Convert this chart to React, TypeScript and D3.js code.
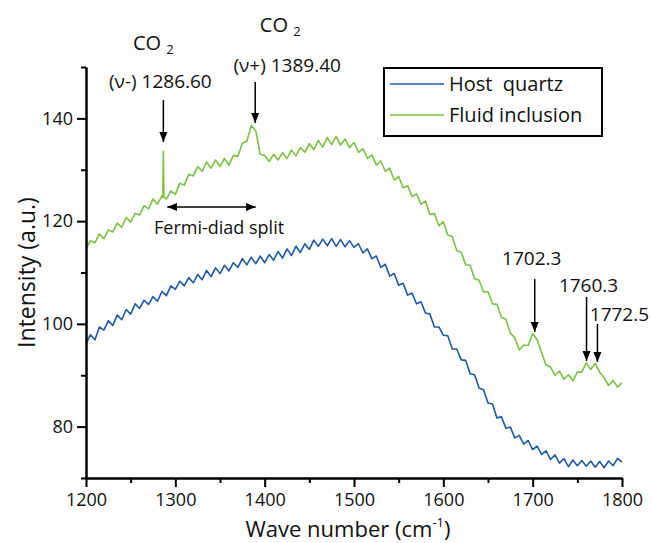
import React, { useEffect, useRef } from 'react';
import * as d3 from 'd3';

// spectra sampled every 5 cm-1 from 1200 to 1800
const waveNumbers = d3.range(1200, 1801, 5);

const hostQuartz = [
  96.1, 97.9, 96.9, 99.4, 98.8, 100.6, 99.7, 101.7, 100.8, 102.8,
  101.9, 103.9, 103.0, 104.6, 103.8, 105.3, 104.4, 106.3, 105.5, 107.4,
  106.7, 108.3, 107.4, 109.0, 108.0, 109.6, 108.6, 110.4, 109.2, 110.9,
  109.8, 111.4, 110.3, 111.9, 111.0, 112.7, 111.5, 113.0, 111.7, 113.2,
  111.9, 113.5, 112.4, 114.1, 112.8, 114.6, 113.3, 115.1, 113.9, 115.6,
  114.5, 116.3, 115.1, 116.5, 115.2, 116.6, 115.1, 116.4, 115.0, 116.2,
  114.9, 115.6, 113.8, 114.6, 112.7, 113.2, 111.0, 111.6, 109.3, 109.8,
  107.5, 107.9, 105.6, 106.0, 103.9, 104.3, 102.1, 101.9, 99.4, 99.4,
  97.8, 97.7, 95.1, 95.1, 93.0, 92.9, 90.3, 90.1, 87.5, 87.2,
  84.6, 84.4, 81.7, 81.9, 79.7, 79.9, 77.8, 78.3, 76.6, 77.3,
  75.5, 76.2, 74.6, 75.3, 73.6, 74.5, 72.9, 73.8, 72.2, 73.5,
  72.4, 73.4, 72.3, 73.3, 72.1, 73.2, 72.0, 73.3, 72.4, 73.8,
  73.1,
];

const fluidInclusion = [
  114.6, 116.2, 115.8, 117.5, 116.6, 118.3, 117.9, 119.6, 118.8, 120.7,
  119.8, 121.5, 121.2, 123.0, 122.4, 124.3, 123.3, 124.9, 124.3, 125.9,
  125.2, 127.4, 127.0, 129.1, 128.8, 130.6, 129.7, 131.5, 130.3, 131.9,
  130.6, 132.2, 130.9, 132.8, 132.6, 135.2, 135.5, 138.6, 137.6, 133.0,
  132.8, 131.6, 133.0, 131.9, 133.3, 132.2, 133.8, 132.7, 134.3, 133.4,
  135.1, 133.9, 135.7, 134.4, 136.3, 134.9, 136.5, 134.8, 136.0, 134.3,
  135.3, 133.4, 134.1, 132.2, 132.9, 130.9, 131.7, 129.7, 130.3, 128.0,
  128.7, 126.5, 126.9, 124.8, 125.3, 123.3, 123.9, 121.3, 121.5, 119.1,
  119.9, 117.3, 117.0, 114.3, 113.9, 111.5, 111.4, 108.8, 108.5, 106.2,
  106.3, 103.9, 103.8, 101.3, 100.9, 98.2, 97.3, 94.9, 95.9, 95.8,
  98.1, 96.9, 94.4, 92.0, 91.6, 90.0, 90.8, 89.2, 90.1, 88.9,
  90.6, 90.6, 92.4, 91.1, 92.3, 90.6, 89.5, 88.0, 89.0, 87.7,
  88.5,
];

// narrow CO2 (v-) line on the fluid inclusion spectrum
const co2SpikeWaves = [1286.0, 1286.6, 1287.2];
const co2SpikeValues = [124.6, 133.6, 124.7];

const xMajorTicks = [1200, 1300, 1400, 1500, 1600, 1700, 1800];
const xMinorTicks = [1250, 1350, 1450, 1550, 1650, 1750];
const yMajorTicks = [80, 100, 120, 140];
const yMinorTicks = [70, 90, 110, 130, 150];

const seriesNames = ['Host  quartz', 'Fluid inclusion'];
const seriesColors = ['#1f5aa8', '#7cc143'];

const peakWaves = [1286.6, 1389.4, 1702.3, 1760.3, 1772.5];
const peakLabels = ['(ν-) 1286.60', '(ν+) 1389.40', '1702.3', '1760.3', '1772.5'];

const FONT = "'Open Sans', 'Noto Sans', sans-serif";

const RamanChart = () => {
  const svgRef = useRef(null);

  useEffect(() => {
    const svg = d3.select(svgRef.current);
    svg.selectAll('*').remove();

    const x = d3.scaleLinear().domain([1200, 1800]).range([86, 622]);
    const y = d3.scaleLinear().domain([70, 150]).range([478, 67]);

    const defs = svg.append('defs');
    defs.append('marker')
      .attr('id', 'head')
      .attr('viewBox', '0 0 10 10')
      .attr('refX', 10)
      .attr('refY', 5)
      .attr('markerWidth', 10)
      .attr('markerHeight', 10)
      .attr('markerUnits', 'userSpaceOnUse')
      .attr('orient', 'auto-start-reverse')
      .append('path')
      .attr('d', 'M0,1 L10,5 L0,9 Z')
      .attr('fill', '#000');

    // spectra
    const host = waveNumbers.map((w, i) => [w, hostQuartz[i]]);
    const fluid = waveNumbers.map((w, i) => [w, fluidInclusion[i]]);
    co2SpikeWaves.forEach((w, i) => fluid.push([w, co2SpikeValues[i]]));
    fluid.sort((a, b) => a[0] - b[0]);

    const line = d3.line().x(d => x(d[0])).y(d => y(d[1]));

    [host, fluid].forEach((data, i) => {
      svg.append('path')
        .datum(data)
        .attr('d', line)
        .attr('fill', 'none')
        .attr('stroke', seriesColors[i])
        .attr('stroke-width', 1.6)
        .attr('stroke-linejoin', 'round');
    });

    // axes
    const styleAxis = (g) => {
      g.selectAll('path, line').attr('stroke', '#000').attr('stroke-width', 2);
      g.selectAll('text').attr('font-family', FONT).attr('font-size', 18).attr('fill', '#111');
    };

    svg.append('g')
      .attr('transform', `translate(0,${y(70)})`)
      .call(d3.axisBottom(x).tickValues(xMinorTicks).tickSize(5).tickSizeOuter(0))
      .call(styleAxis)
      .call(g => g.selectAll('text').remove());
    svg.append('g')
      .attr('transform', `translate(0,${y(70)})`)
      .call(d3.axisBottom(x).tickValues(xMajorTicks).tickSize(9).tickPadding(6).tickFormat(d3.format('d')).tickSizeOuter(0))
      .call(styleAxis);

    svg.append('g')
      .attr('transform', `translate(${x(1200)},0)`)
      .call(d3.axisLeft(y).tickValues(yMinorTicks).tickSize(5).tickSizeOuter(0))
      .call(styleAxis)
      .call(g => g.selectAll('text').remove());
    svg.append('g')
      .attr('transform', `translate(${x(1200)},0)`)
      .call(d3.axisLeft(y).tickValues(yMajorTicks).tickSize(9).tickPadding(4).tickFormat(d3.format('d')).tickSizeOuter(0))
      .call(styleAxis);

    // axis titles
    const xTitle = svg.append('text')
      .attr('x', 348)
      .attr('y', 537)
      .attr('text-anchor', 'middle')
      .attr('font-family', FONT)
      .attr('font-size', 22)
      .attr('fill', '#111');
    xTitle.append('tspan').text('Wave number (cm');
    xTitle.append('tspan').attr('font-size', 13).attr('dy', -10).text('-1');
    xTitle.append('tspan').attr('dy', 10).text(')');

    svg.append('text')
      .attr('transform', `translate(35,${(y(70) + y(150)) / 2}) rotate(-90)`)
      .attr('text-anchor', 'middle')
      .attr('font-family', FONT)
      .attr('font-size', 23)
      .attr('fill', '#111')
      .text('Intensity (a.u.)');

    // legend
    const legend = svg.append('g').attr('transform', 'translate(384,68)');
    legend.append('rect')
      .attr('width', 218)
      .attr('height', 68)
      .attr('fill', '#fff')
      .attr('stroke', '#000')
      .attr('stroke-width', 2);
    seriesNames.forEach((name, i) => {
      const row = legend.append('g').attr('transform', `translate(0,${16 + i * 31})`);
      row.append('line')
        .attr('x1', 6).attr('x2', 60)
        .attr('stroke', seriesColors[i])
        .attr('stroke-width', 1.6);
      row.append('text')
        .attr('x', 65)
        .attr('y', 7)
        .attr('font-family', FONT)
        .attr('font-size', 20)
        .attr('fill', '#111')
        .attr('xml:space', 'preserve')
        .style('white-space', 'pre')
        .text(name);
    });

    // peak annotations: [label x offset, label baseline, arrow start, arrow tip]
    const layout = [
      [-3, 88, 100, 142],
      [32, 72, 82, 123],
      [-3, 265, 279, 332],
      [2, 292, 297, 361],
      [22, 321, 324, 362],
    ];
    peakWaves.forEach((w, i) => {
      const [dx, ty, y1, y2] = layout[i];
      svg.append('line')
        .attr('x1', x(w)).attr('x2', x(w))
        .attr('y1', y1).attr('y2', y2)
        .attr('stroke', '#000')
        .attr('stroke-width', 1.5)
        .attr('marker-end', 'url(#head)');
      svg.append('text')
        .attr('x', x(w) + dx)
        .attr('y', ty)
        .attr('text-anchor', 'middle')
        .attr('font-family', FONT)
        .attr('font-size', 19)
        .attr('fill', '#111')
        .text(peakLabels[i]);
    });

    // CO2 headers
    [[peakWaves[0], -10, 50], [peakWaves[1], 25, 32]].forEach(([w, dx, ty]) => {
      const t = svg.append('text')
        .attr('x', x(w) + dx)
        .attr('y', ty)
        .attr('text-anchor', 'middle')
        .attr('font-family', FONT)
        .attr('font-size', 20)
        .attr('fill', '#111')
        .attr('xml:space', 'preserve')
        .style('white-space', 'pre');
      t.append('tspan').text('CO ');
      t.append('tspan').attr('font-size', 13).attr('dy', 4).text('2');
    });

    // Fermi-diad split double arrow
    svg.append('line')
      .attr('x1', x(1291)).attr('x2', x(1390))
      .attr('y1', 207).attr('y2', 207)
      .attr('stroke', '#000')
      .attr('stroke-width', 1.5)
      .attr('marker-start', 'url(#head)')
      .attr('marker-end', 'url(#head)');
    svg.append('text')
      .attr('x', 154)
      .attr('y', 234)
      .attr('font-family', FONT)
      .attr('font-size', 18)
      .attr('fill', '#111')
      .text('Fermi-diad split');
  }, []);

  return (
    <div style={{ position: 'absolute', left: 0, top: 0, background: '#fff' }}>
      <svg ref={svgRef} width={652} height={543} style={{ display: 'block' }}></svg>
    </div>
  );
};

export default function App() {
  return <RamanChart />;
}
